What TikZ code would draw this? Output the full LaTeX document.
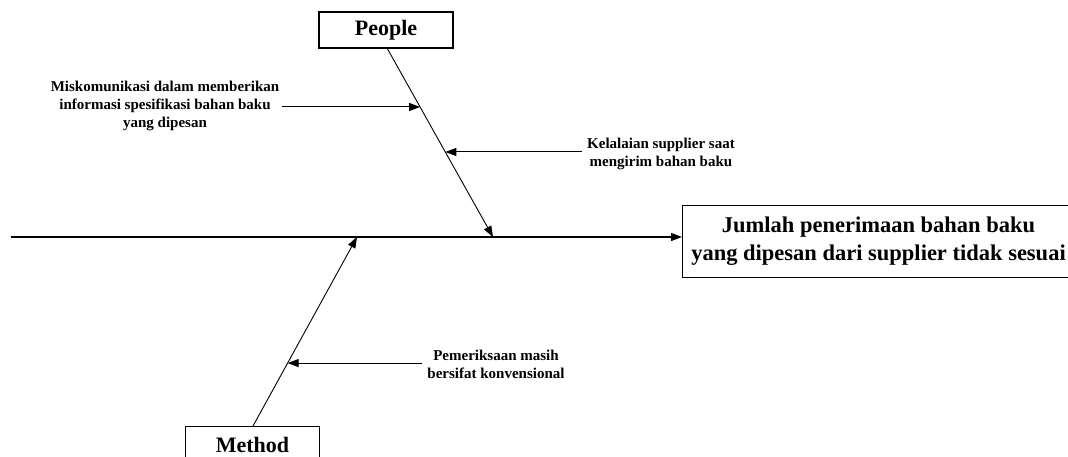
\documentclass[tikz,border=0pt]{standalone}
\usepackage{fontspec}
\setmainfont{Liberation Serif}
\usetikzlibrary{arrows.meta,calc}

\tikzset{
  bone/.style={line width=0.9pt},
  spine/.style={line width=1.2pt, -{Triangle[length=11pt,width=8pt]}},
  cause/.style={line width=1pt, -{Triangle[length=11pt,width=8pt]}},
  headbox/.style={draw, line width=1.1pt, minimum width=134pt, minimum height=36pt,
    inner sep=0pt, font=\fontsize{22}{27}\selectfont\bfseries},
  effectbox/.style={draw, line width=1.1pt, minimum width=392pt, minimum height=72pt,
    inner sep=0pt, align=center, font=\fontsize{22.5}{28}\selectfont\bfseries},
  causetext/.style={align=center, inner sep=3pt, font=\fontsize{15}{18}\selectfont\bfseries}
}

\begin{document}
\begin{tikzpicture}[x=1pt, y=-1pt]
  \useasboundingbox (0,0) rectangle (1068,456);
  \clip (0,0) rectangle (1068,456);

  % category boxes and the effect box
  \node[headbox] (people) at (386,30) {People};
  \node[headbox, anchor=north] (method) at (252.5,426) {Method};
  \node[effectbox, anchor=north west] (effect) at (682,205)
    {Jumlah penerimaan bahan baku\\yang dipesan dari supplier tidak sesuai};

  % main spine
  \coordinate (tail) at (11,237);
  \draw[spine] (tail) -- (tail -| effect.west);

  % category bones meeting the spine
  \coordinate (ptop) at (387,48);
  \coordinate (pend) at (493,237);
  \coordinate (mbot) at (253,426);
  \coordinate (mend) at (357,237);
  \draw[bone, -{Triangle[length=11pt,width=8pt]}] (ptop) -- (pend);
  \draw[bone, -{Triangle[length=11pt,width=8pt]}] (mbot) -- (mend);

  % points on the bones where the causes attach
  \coordinate (p1) at ($(ptop)!0.312!(pend)$);
  \coordinate (p2) at ($(ptop)!0.550!(pend)$);
  \coordinate (m1) at ($(mbot)!0.333!(mend)$);

  % causes
  \node[causetext] (c1) at (165,106)
    {Miskomunikasi dalam memberikan\\informasi spesifikasi bahan baku\\yang dipesan};
  \node[causetext, anchor=center] (c2) at (661,154)
    {Kelalaian supplier saat\\mengirim bahan baku};
  \node[causetext, anchor=center] (c3) at (496,364)
    {Pemeriksaan masih\\bersifat konvensional};

  \draw[cause] (c1.east |- p1) -- (p1);
  \draw[cause] ([xshift=-2pt]c2.west |- p2) -- (p2);
  \draw[cause] ([xshift=-2pt]c3.west |- m1) -- (m1);
\end{tikzpicture}
\end{document}
